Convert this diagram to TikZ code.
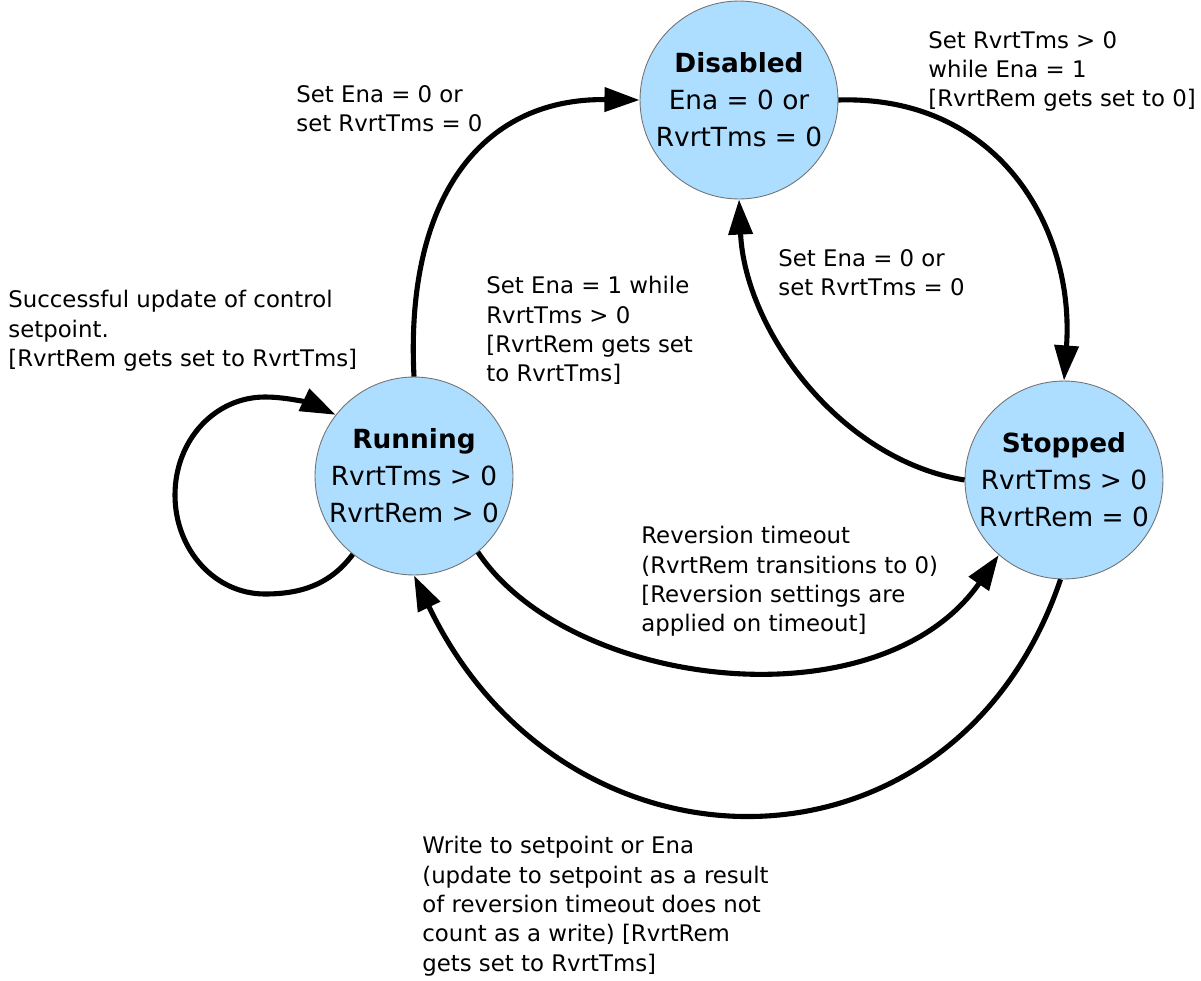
\documentclass[tikz,border=0pt]{standalone}
\usepackage{fontspec}
\setmainfont{DejaVu Sans}
\usetikzlibrary{arrows.meta}
\definecolor{stateblue}{RGB}{173,222,255}
\begin{document}
\begin{tikzpicture}[x=0.02cm,y=-0.02cm,
  state/.style={circle,draw=black!55,line width=0.5pt,fill=stateblue,minimum size=3.96cm,inner sep=0pt,align=center,font=\fontsize{15}{21}\selectfont},
  lbl/.style={anchor=north west,inner sep=0pt,align=left,font=\fontsize{13}{16.7}\selectfont},
  trans/.style={line width=2.9pt,-{Triangle[length=20pt,width=13.5pt]}}]
\fill[white] (0,0) rectangle (1201,981);
\node[state] (dis) at (739,100) {\textbf{Disabled}\\Ena = 0 or\\RvrtTms = 0};
\node[state] (run) at (414,476) {\textbf{Running}\\RvrtTms > 0\\RvrtRem > 0};
\node[state] (stop) at (1064,480) {\textbf{Stopped}\\RvrtTms > 0\\RvrtRem = 0};

\draw[trans] (run.north) .. controls (405,200) and (480,98) .. (dis.west);
\draw[trans] (dis.east) .. controls (1000,95) and (1075,230) .. (stop.north);
\draw[trans] (stop.west) .. controls (840,460) and (745,330) .. (dis.south);
\draw[trans] (run.-50) .. controls (570,690) and (880,726) .. (stop.-131);
\draw[trans] (stop.-92) .. controls (955,891) and (565,891) .. (run.south);
\draw[trans] (run.232) .. controls (330,585) and (300,594) .. (265,594)
  .. controls (215,594) and (175,550) .. (175,495)
  .. controls (175,440) and (215,397) .. (265,397)
  .. controls (290,397) and (315,405) .. (run.142);

\node[lbl] (l1) at (296,85) {Set Ena = 0 or\\set RvrtTms = 0};
\node[lbl] (l2) at (928,31) {Set RvrtTms > 0\\while Ena = 1\\{[RvrtRem gets set to 0]}};
\node[lbl] (l3) at (778,249) {Set Ena = 0 or\\set RvrtTms = 0};
\node[lbl] (l4) at (8,290) {Successful update of control\\setpoint.\\{[RvrtRem gets set to RvrtTms]}};
\node[lbl] (l5) at (486,276) {Set Ena = 1 while\\RvrtTms > 0\\{[RvrtRem gets set}\\to RvrtTms]};
\node[lbl] (l6) at (641,526) {Reversion timeout\\(RvrtRem transitions to 0)\\{[Reversion settings are}\\applied on timeout]};
\node[lbl] (l7) at (422,836) {Write to setpoint or Ena\\(update to setpoint as a result\\of reversion timeout does not\\count as a write) [RvrtRem\\gets set to RvrtTms]};
\end{tikzpicture}
\end{document}
